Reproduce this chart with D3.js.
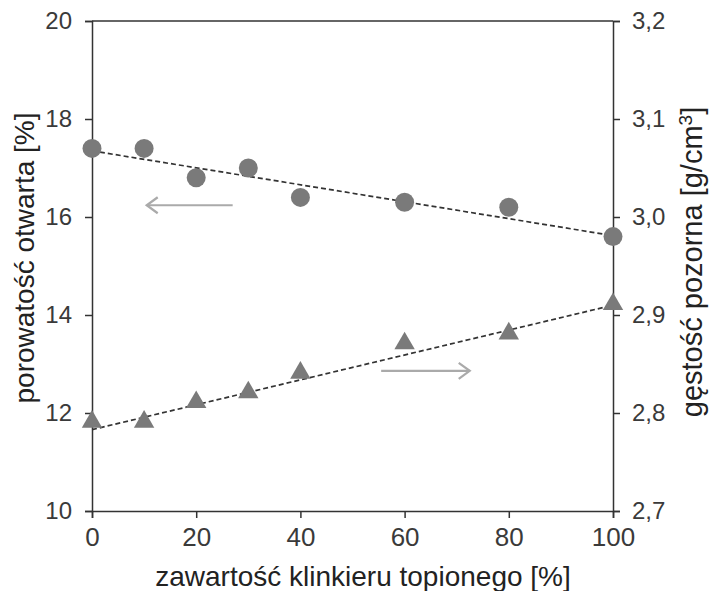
<!DOCTYPE html>
<html>
<head>
<meta charset="utf-8">
<script src="https://cdn.jsdelivr.net/npm/d3@7"></script>
<style>
body { margin: 0; background: #fff; }
svg { font-family: "Liberation Sans", Arial, sans-serif; }
</style>
</head>
<body>
<svg id="chart" width="709" height="591"></svg>
<script>
// data
var xValues = [0, 10, 20, 30, 40, 60, 80, 100];
var porosity = [17.4, 17.4, 16.8, 17.0, 16.4, 16.3, 16.2, 15.6];
var density = [2.79, 2.79, 2.81, 2.82, 2.84, 2.87, 2.88, 2.91];
var porosityTrend = [[0, 17.35], [100, 15.62]];
var densityTrend = [[0, 2.783], [100, 2.91]];
var xTicks = [0, 20, 40, 60, 80, 100];
var leftTicks = [10, 12, 14, 16, 18, 20];
var rightTicks = [2.7, 2.8, 2.9, 3.0, 3.1, 3.2];

var svg = d3.select("#chart");
var pLeft = 92, pRight = 613, pTop = 21, pBottom = 511;

var x = d3.scaleLinear().domain([0, 100]).range([pLeft, pRight]);
var yL = d3.scaleLinear().domain([10, 20]).range([pBottom, pTop]);
var yR = d3.scaleLinear().domain([2.7, 3.2]).range([pBottom, pTop]);

var axisColor = "#333";
var markColor = "#7a7a7a";

// top frame line
svg.append("line")
	.attr("x1", pLeft).attr("x2", pRight)
	.attr("y1", pTop).attr("y2", pTop)
	.attr("stroke", axisColor).attr("stroke-width", 1.5);

var xAxis = d3.axisBottom(x).tickValues(xTicks).tickSize(7).tickPadding(10);
var gx = svg.append("g")
	.attr("transform", "translate(0," + pBottom + ")")
	.call(xAxis);

var yAxisL = d3.axisLeft(yL).tickValues(leftTicks).tickSize(7).tickPadding(13);
var gl = svg.append("g")
	.attr("transform", "translate(" + pLeft + ",0)")
	.call(yAxisL);

var yAxisR = d3.axisRight(yR).tickValues(rightTicks).tickSize(7).tickPadding(12)
	.tickFormat(function(d) { return d3.format(".1f")(d).replace(".", ","); });
var gr = svg.append("g")
	.attr("transform", "translate(" + pRight + ",0)")
	.call(yAxisR);

[gx, gl, gr].forEach(function(g) {
	g.select(".domain").attr("stroke", axisColor).attr("stroke-width", 1.5);
	g.selectAll(".tick line").attr("stroke", axisColor).attr("stroke-width", 1.5);
	g.selectAll(".tick text")
		.attr("fill", "#3a3a3a")
		.style("font-size", "24px")
		.style("font-family", "'Liberation Sans', Arial, sans-serif");
});
gx.selectAll(".tick text").style("font-size", "26px");

// trend lines
var trendLine = d3.line()
	.x(function(d) { return x(d[0]); });

svg.append("path")
	.datum(porosityTrend)
	.attr("d", trendLine.y(function(d) { return yL(d[1]); }))
	.attr("fill", "none")
	.attr("stroke", "#333")
	.attr("stroke-width", 1.7)
	.attr("stroke-dasharray", "5,3");

svg.append("path")
	.datum(densityTrend)
	.attr("d", trendLine.y(function(d) { return yR(d[1]); }))
	.attr("fill", "none")
	.attr("stroke", "#333")
	.attr("stroke-width", 1.7)
	.attr("stroke-dasharray", "5,3");

// circles (porosity, left axis)
svg.selectAll(".circ")
	.data(xValues)
	.enter()
	.append("circle")
	.attr("class", "circ")
	.attr("cx", function(d) { return x(d); })
	.attr("cy", function(d, i) { return yL(porosity[i]); })
	.attr("r", 9.5)
	.attr("fill", markColor);

// triangles (density, right axis)
var tri = d3.symbol().type(d3.symbolTriangle).size(180);
svg.selectAll(".tri")
	.data(xValues)
	.enter()
	.append("path")
	.attr("class", "tri")
	.attr("d", tri)
	.attr("transform", function(d, i) {
		return "translate(" + x(d) + "," + (yR(density[i]) - 1) + ")";
	})
	.attr("fill", markColor);

// arrows
var arrowColor = "#aaa";
function arrow(x1, x2, y, dir) {
	svg.append("line")
		.attr("x1", x1).attr("x2", x2)
		.attr("y1", y).attr("y2", y)
		.attr("stroke", arrowColor).attr("stroke-width", 2.2);
	var tip = dir < 0 ? Math.min(x1, x2) : Math.max(x1, x2);
	svg.append("path")
		.attr("d", "M" + (tip - dir * 11) + "," + (y - 8) + "L" + tip + "," + y + "L" + (tip - dir * 11) + "," + (y + 8))
		.attr("fill", "none")
		.attr("stroke", arrowColor).attr("stroke-width", 2.2);
}
arrow(x(27), x(10.5), yL(16.24), -1);
arrow(x(55.5), x(72.5), yR(2.843), 1);

// axis titles
svg.append("text")
	.attr("x", 363)
	.attr("y", 586)
	.attr("text-anchor", "middle")
	.attr("fill", "#222")
	.style("font-size", "28px")
	.text("zawartość klinkieru topionego [%]");

svg.append("text")
	.attr("transform", "translate(34,258) rotate(-90)")
	.attr("text-anchor", "middle")
	.attr("fill", "#222")
	.style("font-size", "28px")
	.text("porowatość otwarta [%]");

var rt = svg.append("text")
	.attr("transform", "translate(702,262) rotate(-90)")
	.attr("text-anchor", "middle")
	.attr("fill", "#222")
	.style("font-size", "29px");
rt.append("tspan").text("gęstość pozorna [g/cm");
rt.append("tspan").attr("dy", -10).style("font-size", "19px").text("3");
rt.append("tspan").attr("dy", 10).text("]");
</script>
</body>
</html>
